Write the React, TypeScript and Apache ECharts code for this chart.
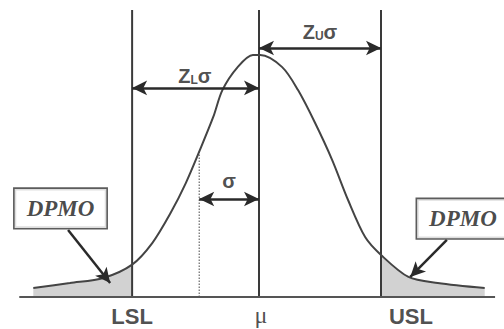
import React, { useEffect, useRef } from "react";
import * as echarts from "echarts";

// Normal-curve outline: x in sigma units from the mean, y relative to peak height
const curveX = [-3.7, -3.1, -2.55, -2.08, -1.75, -1.45, -1.2, -0.97, -0.75, -0.6, -0.35, -0.1, 0.02, 0.38, 0.64, 0.92, 1.2, 1.46, 1.74, 2.0, 2.45, 2.93, 3.7];
const curveY = [0.037, 0.058, 0.079, 0.134, 0.223, 0.347, 0.471, 0.607, 0.744, 0.855, 0.95, 1.0, 1.0, 0.95, 0.855, 0.719, 0.566, 0.401, 0.248, 0.174, 0.083, 0.058, 0.037];

// Specification limits and mean (sigma units)
const LSL = -2.08;
const MU = 0;
const USL = 2.0;
const SIGMA_MARK = -0.98;
const LINE_TOP = 1.186;
const BASE_FROM = -3.93;
const BASE_TO = 3.87;

// Text labels
const limitLabels = ["LSL", "μ", "USL"];
const dpmoText = "DPMO";

export default function App() {
  const ref = useRef<HTMLDivElement>(null);
  useEffect(() => {
    if (!ref.current) return;
    const chart = echarts.init(ref.current, null, { renderer: "svg" });
    const curve = curveX.map((x, i) => [x, curveY[i]]);
    const leftTail = curve.filter((p) => p[0] <= LSL + 1e-9);
    const rightTail = curve.filter((p) => p[0] >= USL - 1e-9);
    const ink = "#3a3a3a";
    const lineW = 2;
    const vline = (x: number) => ({
      type: "line",
      data: [[x, 0], [x, LINE_TOP]],
      symbol: "none",
      lineStyle: { color: ink, width: lineW },
      silent: true,
      z: 3,
    });
    const textPoint = (x: number, y: number, label: any) => ({
      type: "scatter",
      data: [[x, y]],
      symbolSize: 0,
      clip: false,
      silent: true,
      z: 10,
      label: { show: true, position: "inside", ...label },
    });
    const zRich = {
      a: { fontSize: 20, fontWeight: "bold", fontFamily: "Liberation Sans", color: "#222" },
      b: { fontSize: 12, fontWeight: "bold", fontFamily: "Liberation Sans", color: "#222", padding: [8, 0, 0, 0] },
    };
    const dpmoLabel = {
      formatter: dpmoText,
      fontFamily: "Liberation Serif",
      fontStyle: "italic",
      fontWeight: "bold",
      fontSize: 23,
      color: "#1a1a1a",
      backgroundColor: "#fff",
      borderColor: "#333",
      borderWidth: 1.6,
      padding: [8, 12, 7, 12],
      lineHeight: 24,
    };
    const arrow = (a: number[], b: number[], both: boolean) => [
      { coord: a, symbol: both ? "arrow" : "none" },
      { coord: b, symbol: "arrow" },
    ];
    const bottomLabel = (text: string, serif: boolean) => ({
      formatter: text,
      fontSize: serif ? 24 : 22,
      lineHeight: serif ? 24 : 22,
      fontWeight: serif ? "normal" : "bold",
      fontFamily: serif ? "Liberation Serif" : "Liberation Sans",
      color: "#222",
    });
    chart.setOption({
      animation: false,
      backgroundColor: "#fff",
      grid: { left: 15, right: 1, top: 6.6, bottom: 0 },
      xAxis: { type: "value", min: -4, max: 4, show: false },
      yAxis: { type: "value", min: -0.132, max: 1.2, show: false },
      series: [
        {
          type: "line",
          data: leftTail,
          smooth: 0.3,
          symbol: "none",
          lineStyle: { width: 0 },
          areaStyle: { color: "#d2d2d2", opacity: 1 },
          silent: true,
          z: 1,
        },
        {
          type: "line",
          data: rightTail,
          smooth: 0.3,
          symbol: "none",
          lineStyle: { width: 0 },
          areaStyle: { color: "#d2d2d2", opacity: 1 },
          silent: true,
          z: 1,
        },
        {
          type: "line",
          data: curve,
          smooth: 0.3,
          symbol: "none",
          lineStyle: { color: "#444", width: 2 },
          silent: true,
          z: 4,
        },
        {
          type: "line",
          data: [[SIGMA_MARK, 0], [SIGMA_MARK, 0.6]],
          symbol: "none",
          lineStyle: { color: "#666", width: 1.2, type: [1.5, 1.5] },
          silent: true,
          z: 2,
        },
        vline(LSL),
        vline(MU),
        vline(USL),
        {
          type: "line",
          data: [[BASE_FROM, 0], [BASE_TO, 0]],
          symbol: "none",
          lineStyle: { color: "#555", width: 2 },
          silent: true,
          z: 3,
          markLine: {
            silent: true,
            animation: false,
            symbolSize: [11, 15],
            label: { show: false },
            lineStyle: { color: "#2a2a2a", width: 2.5, type: "solid" },
            data: [
              arrow([LSL, 0.864], [MU, 0.864], true),
              arrow([MU, 1.029], [USL, 1.029], true),
              arrow([SIGMA_MARK, 0.405], [MU, 0.405], true),
              arrow([-3.13, 0.277], [-2.44, 0.058], false),
              arrow([3.08, 0.236], [2.48, 0.083], false),
            ],
          },
        },
        textPoint(-1.05, 0.913, { formatter: "{a|Z}{b|L}{a|σ}", rich: zRich }),
        textPoint(1.0, 1.095, { formatter: "{a|Z}{b|U}{a|σ}", rich: zRich }),
        textPoint(-0.49, 0.479, { formatter: "σ", fontSize: 20, fontWeight: "bold", fontFamily: "Liberation Sans", color: "#222" }),
        textPoint(-3.254, 0.366, dpmoLabel),
        textPoint(3.344, 0.324, dpmoLabel),
        textPoint(LSL, -0.08, bottomLabel(limitLabels[0], false)),
        textPoint(0.03, -0.074, bottomLabel(limitLabels[1], true)),
        textPoint(2.49, -0.08, bottomLabel(limitLabels[2], false)),
      ],
    });
    return () => chart.dispose();
  }, []);
  return <div ref={ref} style={{ width: 504, height: 329, position: "absolute", left: 0, top: 0 }} />;
}
